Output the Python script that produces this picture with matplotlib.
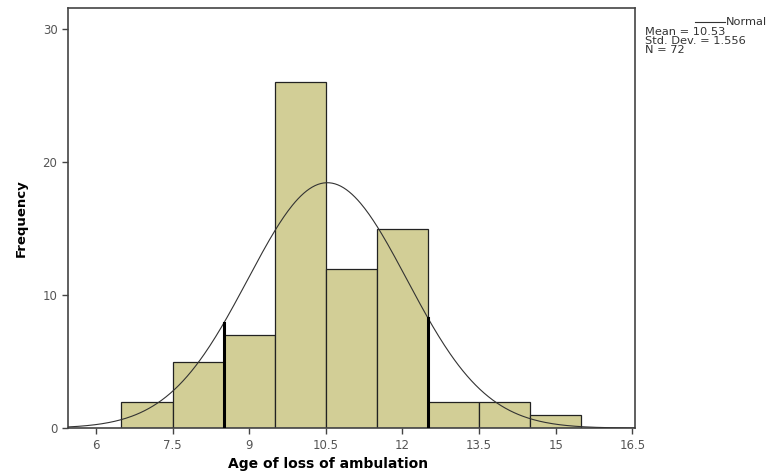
import numpy as np
import matplotlib.pyplot as plt

plt.rcParams['font.family'] = ['DejaVu Sans']

# histogram of age of loss of ambulation (bin width 1)
bin_edges = [6.5, 7.5, 8.5, 9.5, 10.5, 11.5, 12.5, 13.5, 14.5, 15.5]
counts = [2, 5, 7, 26, 12, 15, 2, 2, 1]
mean, sd, n = 10.53, 1.556, 72
x_ticks = [6, 7.5, 9, 10.5, 12, 13.5, 15, 16.5]
y_ticks = [0, 10, 20, 30]

fig = plt.figure(figsize=(7.71, 4.71), dpi=100)
ax = fig.add_axes([0.088, 0.091, 0.736, 0.892])

lefts = bin_edges[:-1]
widths = np.diff(bin_edges)
ax.bar(lefts, counts, width=widths, align='edge', color='#d2ce96',
       edgecolor='#222222', linewidth=0.9, zorder=2)

# normal curve scaled to counts
xs = np.linspace(5.45, 16.55, 400)
bw = 1.0
ys = n * bw / (sd * np.sqrt(2 * np.pi)) * np.exp(-0.5 * ((xs - mean) / sd) ** 2)
ax.plot(xs, ys, color='#333333', linewidth=0.8, zorder=3)

# the darker edges where the curve meets the bars
for e in (8.5, 12.5):
    h = n / (sd * np.sqrt(2 * np.pi)) * np.exp(-0.5 * ((e - mean) / sd) ** 2)
    ax.plot([e, e], [0, h], color='black', linewidth=2.2, zorder=4)

ax.set_xlim(5.45, 16.56)
ax.set_ylim(0, 31.6)
ax.set_xticks(x_ticks)
ax.set_xticklabels([f'{t:g}' for t in x_ticks])
ax.set_yticks(y_ticks)
ax.tick_params(direction='out', length=4, width=1, color='#444444',
               labelcolor='#555555', labelsize=8.5)
for s in ax.spines.values():
    s.set_color('#444444')
    s.set_linewidth(1.2)

ax.set_xlabel('Age of loss of ambulation', fontsize=10, fontweight='bold')
ax.xaxis.set_label_coords(0.459, -0.068)
ax.set_ylabel('Frequency', fontsize=9.5, fontweight='bold', labelpad=11)

# legend/stat box at top right
fig.lines.append(plt.Line2D([0.901, 0.940], [0.953, 0.953], color='#333333',
                            linewidth=0.8, transform=fig.transFigure))
fig.text(0.942, 0.953, 'Normal', fontsize=8.2, va='center', color='#333333')
stats = [f'Mean = {mean:.2f}', f'Std. Dev. = {sd:.3f}', f'N = {n}']
for txt, yy in zip(stats, [0.932, 0.913, 0.894]):
    fig.text(0.836, yy, txt, fontsize=8.2, va='center', color='#333333')

plt.savefig('out.png', dpi=100)
